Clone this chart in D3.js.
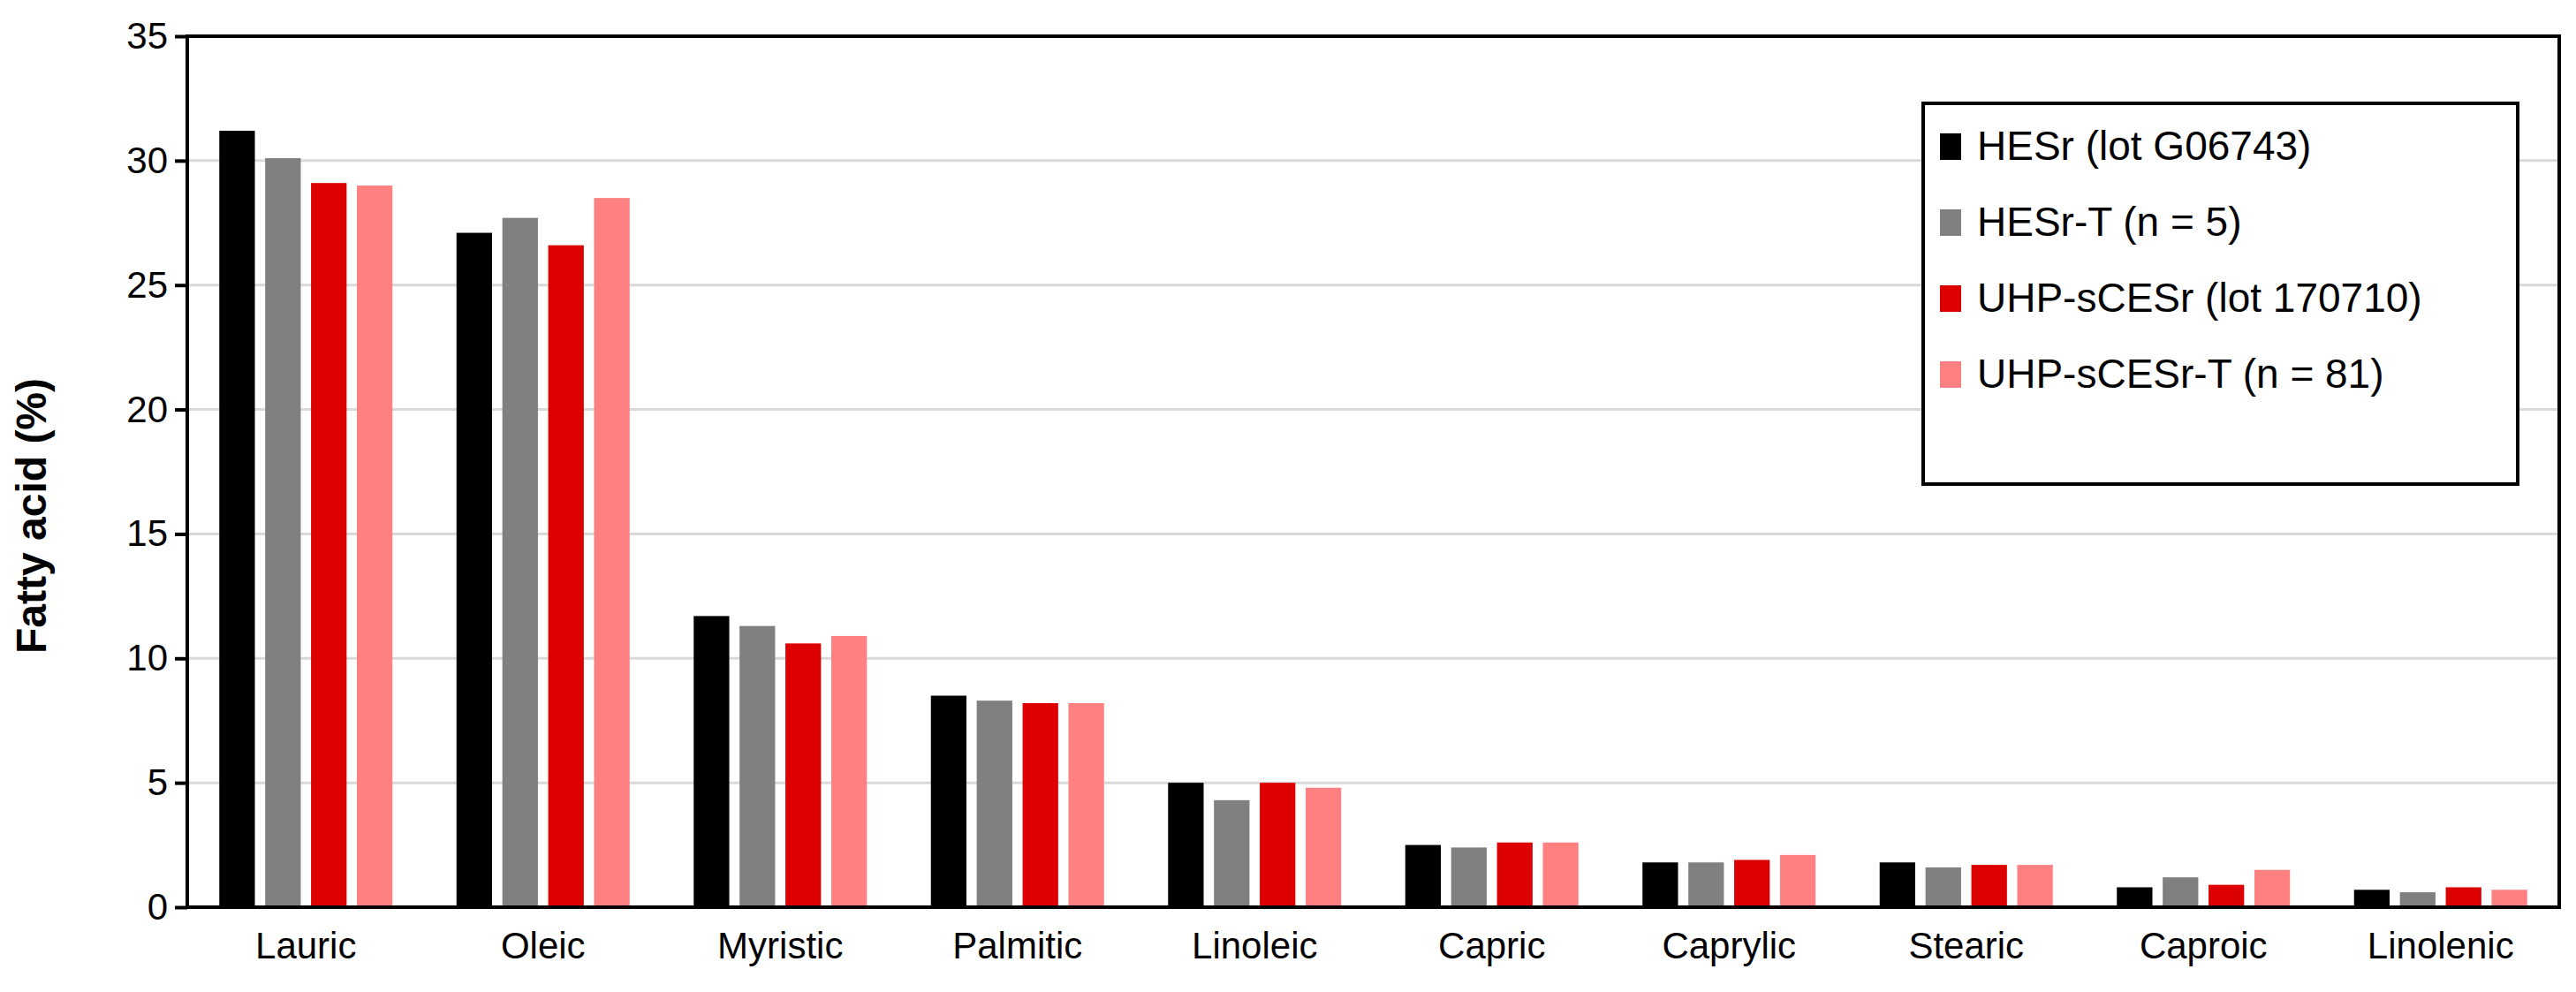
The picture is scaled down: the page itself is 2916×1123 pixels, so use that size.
<!DOCTYPE html>
<html><head><meta charset="utf-8">
<script src="https://cdn.jsdelivr.net/npm/d3@7"></script>
<style>body{margin:0;background:#fff}svg{font-family:"Liberation Sans",Arial,sans-serif}</style>
</head><body>
<svg id="c" width="2916" height="1123"></svg>
<script>
const categories=["Lauric","Oleic","Myristic","Palmitic","Linoleic","Capric","Caprylic","Stearic","Caproic","Linolenic"];
const seriesNames=["HESr (lot G06743)","HESr-T (n = 5)","UHP-sCESr (lot 170710)","UHP-sCESr-T (n = 81)"];
const seriesColors=["#000000","#808080","#dd0000","#ff8080"];
const hesr=[31.2,27.1,11.7,8.5,5.0,2.5,1.8,1.8,0.8,0.7];
const hesrT=[30.1,27.7,11.3,8.3,4.3,2.4,1.8,1.6,1.2,0.6];
const uhp=[29.1,26.6,10.6,8.2,5.0,2.6,1.9,1.7,0.9,0.8];
const uhpT=[29.0,28.5,10.9,8.2,4.8,2.6,2.1,1.7,1.5,0.7];
const yTicks=[0,5,10,15,20,25,30,35];
const series=[hesr,hesrT,uhp,uhpT];

const svg=d3.select("#c");
const L=212,R=2897,T=41,B=1027;
const x=d3.scaleBand().domain(categories).range([L,R]);
const inner=d3.scaleBand().domain(d3.range(4)).range([0,4*49]).paddingInner(11/49);
const y=d3.scaleLinear().domain([0,35]).range([B,T]);

svg.append("g").selectAll("line").data(yTicks.filter(d=>d>0&&d<35)).join("line")
 .attr("x1",L).attr("x2",R).attr("y1",d=>y(d)).attr("y2",d=>y(d))
 .attr("stroke","#d9d9d9").attr("stroke-width",3);

series.forEach((vals,si)=>{
 svg.append("g").selectAll("rect").data(categories).join("rect")
  .attr("x",c=>x(c)+x.bandwidth()/2-98+inner(si))
  .attr("width",inner.bandwidth())
  .attr("y",(c,i)=>y(vals[i]))
  .attr("height",(c,i)=>B-y(vals[i]))
  .attr("fill",seriesColors[si]);
});

svg.append("rect").attr("x",L).attr("y",T).attr("width",R-L).attr("height",B-T)
 .attr("fill","none").attr("stroke","#000").attr("stroke-width",4);

const ya=svg.append("g").attr("transform",`translate(${L},0)`)
 .call(d3.axisLeft(y).tickValues(yTicks).tickSize(14).tickPadding(8));
ya.select(".domain").remove();
ya.selectAll("line").attr("stroke-width",4);
ya.selectAll("text").attr("font-size",42).attr("fill","#000");

const xa=svg.append("g").attr("transform",`translate(0,${B})`)
 .call(d3.axisBottom(x).tickSize(0).tickPadding(28));
xa.select(".domain").remove();
xa.selectAll("text").attr("font-size",42).attr("fill","#000");

svg.append("text").attr("transform",`translate(52,${(T+B)/2+50}) rotate(-90)`)
 .attr("text-anchor","middle").attr("font-size",48).attr("font-weight","bold").text("Fatty acid (%)");

const lg=svg.append("g");
lg.append("rect").attr("x",2177).attr("y",117).attr("width",673).attr("height",431)
 .attr("fill","#fff").attr("stroke","#000").attr("stroke-width",4);
seriesNames.forEach((n,i)=>{
 const cy=164+i*86;
 lg.append("rect").attr("x",2196).attr("y",cy-13).attr("width",24).attr("height",30).attr("fill",seriesColors[i]);
 lg.append("text").attr("x",2238).attr("y",cy+17).attr("font-size",46).text(n);
});
</script>
</body></html>
